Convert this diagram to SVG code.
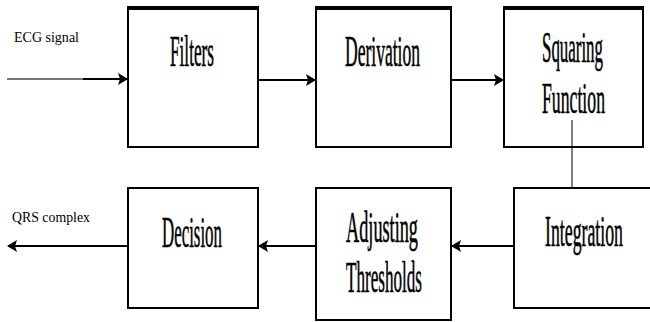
<svg xmlns="http://www.w3.org/2000/svg" width="650" height="322" viewBox="0 0 650 322">
<defs>
<style>
.box{fill:#fff;stroke:#000;stroke-width:2}
.top{stroke:#000;stroke-width:4}
.lbl{font-family:"Liberation Serif","Times New Roman",serif;font-size:22px;fill:#000;stroke:#000;stroke-width:0.3}
.sm{font-family:"Liberation Serif","Times New Roman",serif;font-size:14px;fill:#000}
.ln{stroke:#000;stroke-width:2;fill:none}
</style>
<marker id="ah" markerWidth="10" markerHeight="12" refX="9" refY="6" orient="auto" markerUnits="userSpaceOnUse">
<path d="M0,0 L10,6 L0,12 L2,6 Z" fill="#000"/>
</marker>
</defs>
<rect width="650" height="322" fill="#fff"/>
<text class="sm" x="14" y="42" textLength="65" lengthAdjust="spacingAndGlyphs">ECG signal</text>
<text class="sm" x="12" y="222" textLength="78" lengthAdjust="spacingAndGlyphs">QRS complex</text>
<g id="filters">
<rect class="box" x="128" y="8" width="130" height="139"/>
<line class="top" x1="127" y1="8" x2="259" y2="8"/>
<text class="lbl" transform="translate(170,66) scale(1,2)" textLength="44" lengthAdjust="spacingAndGlyphs">Filters</text>
</g>
<g id="derivation">
<rect class="box" x="316" y="8" width="135" height="139"/>
<line class="top" x1="315" y1="8" x2="452" y2="8"/>
<text class="lbl" transform="translate(345,66) scale(1,2)" textLength="75" lengthAdjust="spacingAndGlyphs">Derivation</text>
</g>
<g id="squaring">
<rect class="box" x="504" y="8" width="139" height="139"/>
<line class="top" x1="503" y1="8" x2="644" y2="8"/>
<text class="lbl" transform="translate(542,62) scale(1,2)" textLength="61" lengthAdjust="spacingAndGlyphs">Squaring</text>
<text class="lbl" transform="translate(542,113) scale(1,2)" textLength="63" lengthAdjust="spacingAndGlyphs">Function</text>
</g>
<g id="integration">
<rect class="box" x="514" y="188" width="140" height="120"/>
<text class="lbl" transform="translate(545,246) scale(1,2)" textLength="78" lengthAdjust="spacingAndGlyphs">Integration</text>
</g>
<g id="adjusting">
<rect class="box" x="316" y="188" width="135" height="132"/>
<text class="lbl" transform="translate(346,242) scale(1,2)" textLength="72" lengthAdjust="spacingAndGlyphs">Adjusting</text>
<text class="lbl" transform="translate(346,292) scale(1,2)" textLength="76" lengthAdjust="spacingAndGlyphs">Thresholds</text>
</g>
<g id="decision">
<rect class="box" x="128" y="188" width="130" height="120"/>
<text class="lbl" transform="translate(162,247) scale(1,2)" textLength="60" lengthAdjust="spacingAndGlyphs">Decision</text>
</g>
<g id="connectors">
<line x1="7" y1="79" x2="83" y2="79" stroke="#777" stroke-width="2"/>
<line x1="83" y1="79" x2="127" y2="79" class="ln" marker-end="url(#ah)"/>
<line x1="259" y1="80" x2="315" y2="80" class="ln" marker-end="url(#ah)"/>
<line x1="452" y1="80" x2="503" y2="80" class="ln" marker-end="url(#ah)"/>
<line x1="572" y1="120" x2="572" y2="187" stroke="#000" stroke-width="1"/>
<line x1="513" y1="246" x2="452" y2="246" class="ln" marker-end="url(#ah)"/>
<line x1="315" y1="246" x2="259" y2="246" class="ln" marker-end="url(#ah)"/>
<line x1="127" y1="246" x2="8" y2="246" class="ln" marker-end="url(#ah)"/>
</g>
</svg>
